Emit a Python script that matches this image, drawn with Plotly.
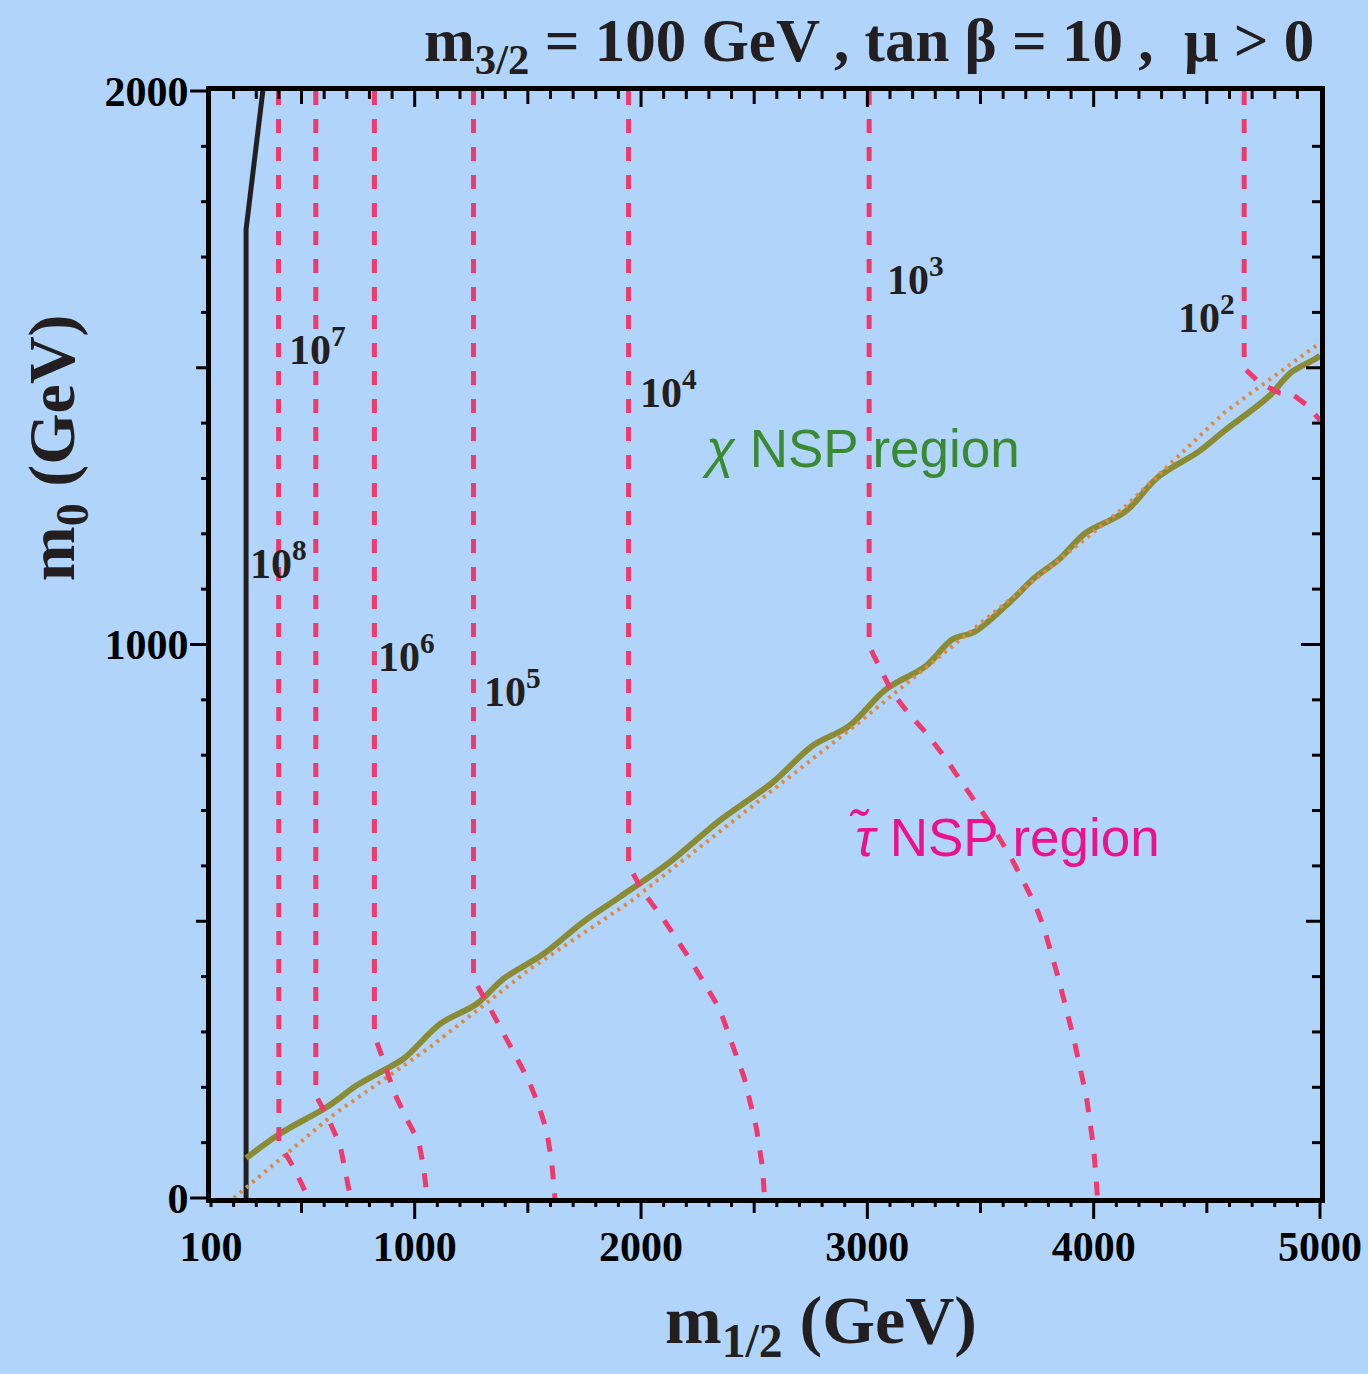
import plotly.graph_objects as go

# ---------------- axis ranges and tick labels (GeV) ----------------
X_RANGE = [100, 5000]
Y_RANGE = [0, 2000]
x_tickvals = [100, 1000, 2000, 3000, 4000, 5000]
y_tickvals = [0, 1000, 2000]

# ---------------- curves ----------------
# excluded strip boundary (solid black)
bound_m12 = [255, 255, 329]
bound_m0 = [0, 1750, 2000]

# neutralino / stau NSP boundary (olive)
nsp_m12 = [255, 408, 614, 746, 864, 952, 1114, 1275, 1392, 1569, 1745, 1907,
           2127, 2347, 2582, 2758, 2920, 3082, 3258, 3375, 3478, 3640, 3740,
           3845, 3963, 4139, 4286, 4462, 4580, 4771, 4874, 4984, 5000]
nsp_m0 = [72, 117, 165, 204, 231, 252, 315, 351, 396, 441, 499, 544,
          607, 682, 751, 817, 853, 919, 961, 1009, 1024, 1081, 1121,
          1153, 1201, 1240, 1303, 1348, 1387, 1447, 1492, 1517, 1522]

# dotted orange line
dot_m12 = [201, 629, 1069, 1510, 1951, 2347, 2935, 3375, 4139, 4580, 5000]
dot_m0 = [0, 147, 273, 414, 535, 661, 850, 997, 1249, 1420, 1545]

# NLSP lifetime contours (seconds)
c8_m12 = [398, 400, 467, 530]
c8_m0 = [2000, 100, 54, 0]
c7_m12 = [563, 563, 621, 670, 695, 717]
c7_m0 = [2000, 186, 141, 96, 45, 0]
c6_m12 = [822, 822, 864, 908, 959, 1018, 1040, 1055]
c6_m0 = [2000, 294, 246, 192, 147, 102, 54, 0]
c5_m12 = [1260, 1260, 1326, 1385, 1444, 1503, 1547, 1584, 1605, 1620]
c5_m0 = [2000, 396, 348, 303, 261, 213, 168, 120, 66, 0]
c4_m12 = [1945, 1945, 2009, 2097, 2215, 2347, 2457, 2510, 2537, 2546]
c4_m0 = [2000, 601, 553, 505, 432, 342, 216, 126, 54, 0]
c3_m12 = [3008, 3008, 3052, 3111, 3185, 3258, 3332, 3405, 3478, 3559, 3625,
          3684, 3743, 3779, 3845, 3912, 3969, 4000, 4017]
c3_m0 = [2000, 997, 961, 913, 874, 841, 802, 760, 715, 667, 622,
         577, 528, 490, 396, 288, 180, 90, 0]
c2_m12 = [4665, 4665, 4736, 4824, 4885, 4947, 5000]
c2_m0 = [2000, 1499, 1472, 1454, 1450, 1431, 1405]

contours = [(c8_m12, c8_m0), (c7_m12, c7_m0), (c6_m12, c6_m0), (c5_m12, c5_m0),
            (c4_m12, c4_m0), (c3_m12, c3_m0), (c2_m12, c2_m0)]

# contour labels: exponent and position (left edge, vertical centre)
lab_exp = [8, 7, 6, 5, 4, 3, 2]
lab_m12 = [262, 434, 831, 1298, 1985, 3078, 4365]
lab_m0 = [1152, 1539, 984, 921, 1461, 1665, 1597]

BG = "#B1D5FA"
RED = "#EE3A6C"
OLIVE = "#8A8B33"
ORANGE = "#E08A40"
SERIF = "Liberation Serif, Times New Roman, serif"
SANS = "Liberation Sans, Arial, Helvetica, sans-serif"

fig = go.Figure()

fig.add_trace(go.Scatter(x=bound_m12, y=bound_m0, mode="lines",
                         line=dict(color="#231F20", width=5)))
fig.add_trace(go.Scatter(x=nsp_m12, y=nsp_m0, mode="lines",
                         line=dict(color=OLIVE, width=6, shape="spline", smoothing=1.0)))
fig.add_trace(go.Scatter(x=dot_m12, y=dot_m0, mode="lines",
                         line=dict(color=ORANGE, width=4, dash="3px,5px")))
for cx, cy in contours:
    fig.add_trace(go.Scatter(x=cx, y=cy, mode="lines",
                             line=dict(color=RED, width=5, dash="14px,14px")))

# ---------------- tick marks (three lengths, inside on top/right) ----------------
shapes = []
def xfrac(v):
    return (v - X_RANGE[0]) / (X_RANGE[1] - X_RANGE[0])
def yfrac(v):
    return (v - Y_RANGE[0]) / (Y_RANGE[1] - Y_RANGE[0])

LW = 3
for v in range(100, 5001, 100):
    out_len = 21 if v % 1000 == 0 else (15 if v % 500 == 0 else 9)
    in_len = 16 if v % 1000 == 0 else (13 if v % 500 == 0 else 8)
    f = xfrac(v)
    shapes.append(dict(type="line", xref="paper", yref="paper", x0=f, x1=f,
                       ysizemode="pixel", yanchor=0, y0=0, y1=-out_len,
                       line=dict(color="black", width=LW)))
    if 100 < v < 5000:
        shapes.append(dict(type="line", xref="paper", yref="paper", x0=f, x1=f,
                           ysizemode="pixel", yanchor=1, y0=0, y1=-in_len,
                           line=dict(color="black", width=LW)))
for v in range(0, 2001, 100):
    out_len = 21 if v % 1000 == 0 else (15 if v % 500 == 0 else 10)
    in_len = 19 if v % 1000 == 0 else (14 if v % 500 == 0 else 8)
    f = yfrac(v)
    shapes.append(dict(type="line", xref="paper", yref="paper", y0=f, y1=f,
                       xsizemode="pixel", xanchor=0, x0=0, x1=-out_len,
                       line=dict(color="black", width=LW)))
    if 0 < v < 2000:
        shapes.append(dict(type="line", xref="paper", yref="paper", y0=f, y1=f,
                           xsizemode="pixel", xanchor=1, x0=0, x1=-in_len,
                           line=dict(color="black", width=LW)))

# ---------------- text ----------------
annotations = []
for e, xm, ym in zip(lab_exp, lab_m12, lab_m0):
    annotations.append(dict(x=xm, y=ym, xref="x", yref="y", xanchor="left", yanchor="middle",
                            text=f"10<sup>{e}</sup>", showarrow=False,
                            font=dict(family=SERIF, size=42, color="#231F20", weight="bold")))

annotations.append(dict(x=2259, y=1355, xref="x", yref="y", xanchor="left", yanchor="middle",
                        text="<i>χ</i> NSP region", showarrow=False,
                        font=dict(family=SANS, size=53, color="#3A8A33")))
annotations.append(dict(x=2911, y=652, xref="x", yref="y", xanchor="left", yanchor="middle",
                        text="<i>τ\u0303</i> NSP region", showarrow=False,
                        font=dict(family=SANS, size=53, color="#EC128C")))

annotations.append(dict(x=1, y=1, xref="paper", yref="paper", xanchor="right", yanchor="bottom",
                        xshift=-4, yshift=6,
                        text="m<sub>3/2</sub> = 100 GeV , tan β = 10 ,  μ > 0", showarrow=False,
                        font=dict(family=SERIF, size=61, color="#231F20", weight="bold")))
annotations.append(dict(x=0.55, y=-0.114, xref="paper", yref="paper", xanchor="center", yanchor="middle",
                        text="m<sub>1/2</sub> (GeV)", showarrow=False,
                        font=dict(family=SERIF, size=68, color="#231F20", weight="bold")))
annotations.append(dict(x=-0.139, y=0.678, xref="paper", yref="paper", xanchor="center", yanchor="middle",
                        text="m<sub>0</sub> (GeV)", showarrow=False, textangle=-90,
                        font=dict(family=SERIF, size=66, color="#231F20", weight="bold")))

fig.update_layout(
    width=1368, height=1374,
    margin=dict(l=211, r=48, t=91, b=176),
    paper_bgcolor=BG, plot_bgcolor=BG,
    showlegend=False,
    shapes=shapes,
    annotations=annotations,
)
fig.update_xaxes(range=X_RANGE, showgrid=False, zeroline=False, automargin=False,
                 showline=True, mirror=True, linewidth=5, linecolor="black",
                 tickvals=x_tickvals, ticktext=[str(v) for v in x_tickvals],
                 ticks="outside", ticklen=8, tickcolor="rgba(0,0,0,0)",
                 tickfont=dict(family=SERIF, size=42, color="black", weight="bold"))
fig.update_yaxes(range=Y_RANGE, showgrid=False, zeroline=False, automargin=False,
                 showline=True, mirror=True, linewidth=5, linecolor="black",
                 tickvals=y_tickvals, ticktext=[str(v) for v in y_tickvals],
                 ticks="outside", ticklen=9, tickcolor="rgba(0,0,0,0)",
                 tickfont=dict(family=SERIF, size=42, color="black", weight="bold"))

fig.write_html("out.html")
